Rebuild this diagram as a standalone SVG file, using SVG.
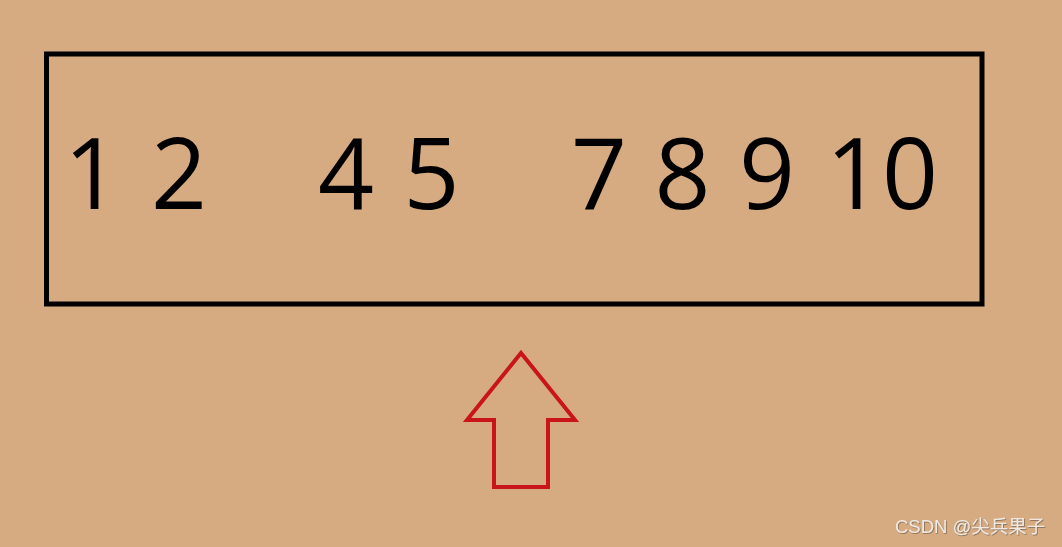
<svg xmlns="http://www.w3.org/2000/svg" width="1062" height="547" viewBox="0 0 1062 547">
<style>
.num{font-family:"Open Sans","Noto Sans","DejaVu Sans",sans-serif;font-size:98px;fill:#000;text-anchor:middle}
.wm{font-family:"Liberation Sans","Noto Sans CJK SC",sans-serif;font-size:18.5px;fill:#efe9e2}
</style>
<defs>
<filter id="sh" x="-5%" y="-20%" width="110%" height="140%"><feDropShadow dx="0.8" dy="0.8" stdDeviation="0.4" flood-color="#6b5a48" flood-opacity="0.8"/></filter>
</defs>
<rect width="1062" height="547" fill="#d7ab81"/>
<g id="box">
<rect x="46.5" y="54" width="935.5" height="250" fill="none" stroke="#000" stroke-width="5"/>
<text class="num" x="92" y="209">1</text>
<text class="num" x="179" y="209">2</text>
<text class="num" x="346" y="209">4</text>
<text class="num" x="431.5" y="209">5</text>
<text class="num" x="599" y="209">7</text>
<text class="num" x="682.5" y="209">8</text>
<text class="num" x="767" y="209">9</text>
<text class="num" x="882" y="209">10</text>
</g>
<g id="arrow">
<polygon points="521,353 575,420 548,420 548,487 494,487 494,420 467,420" fill="none" stroke="#c8141a" stroke-width="4" stroke-linejoin="miter"/>
</g>
<text class="wm" x="895" y="533" filter="url(#sh)">CSDN @尖兵果子</text>
</svg>
